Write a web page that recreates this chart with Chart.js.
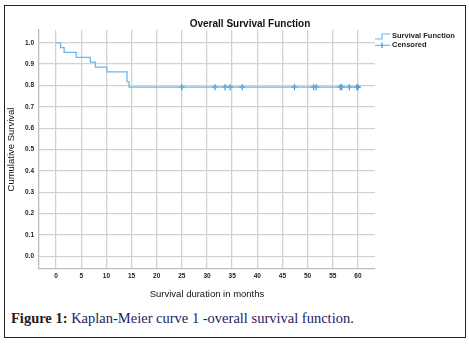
<!DOCTYPE html>
<html>
<head>
<meta charset="utf-8">
<script src="https://cdn.jsdelivr.net/npm/chart.js@4"></script>
<style>
  html, body { margin: 0; padding: 0; background: #fff; }
  #frame {
    position: absolute; left: 4px; top: 5px; width: 460px; height: 331px;
    border: 1.5px solid #222;
  }
  #wrap { position: absolute; left: 0; top: 0; width: 469px; height: 310px; }
  #caption {
    position: absolute; left: 11px; top: 310px;
    font-family: "Liberation Serif", "DejaVu Serif", serif; font-size: 14.5px;
    color: #1f2160; white-space: nowrap;
  }
  #caption b { color: #2a1c12; }
</style>
</head>
<body>
<div id="frame"></div>
<div id="wrap"><canvas id="km" width="469" height="310"></canvas></div>
<div id="caption"><b>Figure 1:</b> Kaplan-Meier curve 1 -overall survival function.</div>
<script>
// survival steps (months, cumulative survival)
const eventTimes = [0, 0.9, 1.6, 4.0, 6.8, 7.8, 10.1, 14.1, 14.5, 60];
const survival   = [1.0, 0.977, 0.955, 0.932, 0.909, 0.886, 0.864, 0.818, 0.792, 0.792];
// censored observations
const censorTimes = [25, 31.6, 33.6, 34.6, 37, 47.4, 51.2, 51.7, 56.5, 56.8, 58.3, 59.8, 60];
const censorSurv  = [0.792, 0.792, 0.792, 0.792, 0.792, 0.792, 0.792, 0.792, 0.792, 0.792, 0.792, 0.792, 0.792];
const xTicks = [0, 5, 10, 15, 20, 25, 30, 35, 40, 45, 50, 55, 60];
const yTicks = [0.0, 0.1, 0.2, 0.3, 0.4, 0.5, 0.6, 0.7, 0.8, 0.9, 1.0];

const lineBlue = '#6cb8ea';
const crossBlue = '#3a8fd3';
const gridGrey = '#d2d2d2';

const extras = {
  id: 'extras',
  afterDraw(chart) {
    const ctx = chart.ctx;
    ctx.save();
    ctx.fillStyle = '#111';
    ctx.font = 'bold 10px "Liberation Sans", Arial, sans-serif';
    ctx.textAlign = 'center';
    ctx.textBaseline = 'middle';
    ctx.fillText('Overall Survival Function', 250, 24);

    // legend
    ctx.strokeStyle = lineBlue;
    ctx.lineWidth = 1.2;
    ctx.beginPath();
    ctx.moveTo(375, 39); ctx.lineTo(382, 39); ctx.lineTo(382, 34); ctx.lineTo(390, 34);
    ctx.stroke();
    ctx.beginPath();
    ctx.moveTo(375, 45.3); ctx.lineTo(390, 45.3);
    ctx.stroke();
    ctx.strokeStyle = crossBlue;
    ctx.beginPath();
    ctx.moveTo(382, 42.5); ctx.lineTo(382, 48);
    ctx.stroke();
    ctx.font = 'bold 7.5px "Liberation Sans", Arial, sans-serif';
    ctx.textAlign = 'left';
    ctx.fillStyle = '#222';
    ctx.fillText('Survival Function', 392, 35.5);
    ctx.fillText('Censored', 392, 45);
    ctx.restore();
  }
};

new Chart(document.getElementById('km'), {
  type: 'scatter',
  data: {
    datasets: [
      {
        label: 'Survival Function',
        data: eventTimes.map((t, i) => ({ x: t, y: survival[i] })),
        showLine: true,
        stepped: 'before',
        borderColor: lineBlue,
        borderWidth: 1.3,
        pointRadius: 0,
        fill: false
      },
      {
        label: 'Censored',
        data: censorTimes.map((t, i) => ({ x: t, y: censorSurv[i] })),
        showLine: false,
        pointStyle: 'cross',
        pointRadius: 3,
        borderColor: crossBlue,
        borderWidth: 1.2
      }
    ]
  },
  options: {
    responsive: false,
    animation: false,
    layout: { padding: { top: 30, right: 94, left: 0, bottom: 0 } },
    plugins: { legend: { display: false }, tooltip: { enabled: false } },
    scales: {
      x: {
        type: 'linear',
        min: -3.4, max: 63.4,
        afterBuildTicks: s => { s.ticks = xTicks.map(v => ({ value: v })); },
        afterFit: s => { s.height = 41; },
        grid: { color: gridGrey, lineWidth: 1.3, drawTicks: false },
        border: { color: '#bdbdbd', width: 1.3 },
        ticks: {
          padding: 3,
          color: '#222',
          font: { family: '"Liberation Sans", Arial', size: 6.5, weight: 'bold' },
          callback: v => v
        },
        title: {
          display: true,
          text: 'Survival duration in months',
          color: '#111',
          font: { family: '"Liberation Sans", Arial', size: 9.5 },
          padding: { top: 0, bottom: 10 }
        }
      },
      y: {
        min: -0.06, max: 1.06,
        afterBuildTicks: s => { s.ticks = yTicks.map(v => ({ value: v })); },
        afterFit: s => { s.width = 39; },
        grid: { color: gridGrey, lineWidth: 1.3, drawTicks: false },
        border: { color: '#bdbdbd', width: 1.3 },
        ticks: {
          padding: 5,
          color: '#222',
          font: { family: '"Liberation Sans", Arial', size: 6.5, weight: 'bold' },
          callback: v => v.toFixed(1)
        },
        title: {
          display: true,
          text: 'Cumulative Survival',
          color: '#111',
          font: { family: '"Liberation Sans", Arial', size: 9.5 },
          padding: { top: 6, bottom: 0 }
        }
      }
    }
  },
  plugins: [extras]
});
</script>
</body>
</html>
